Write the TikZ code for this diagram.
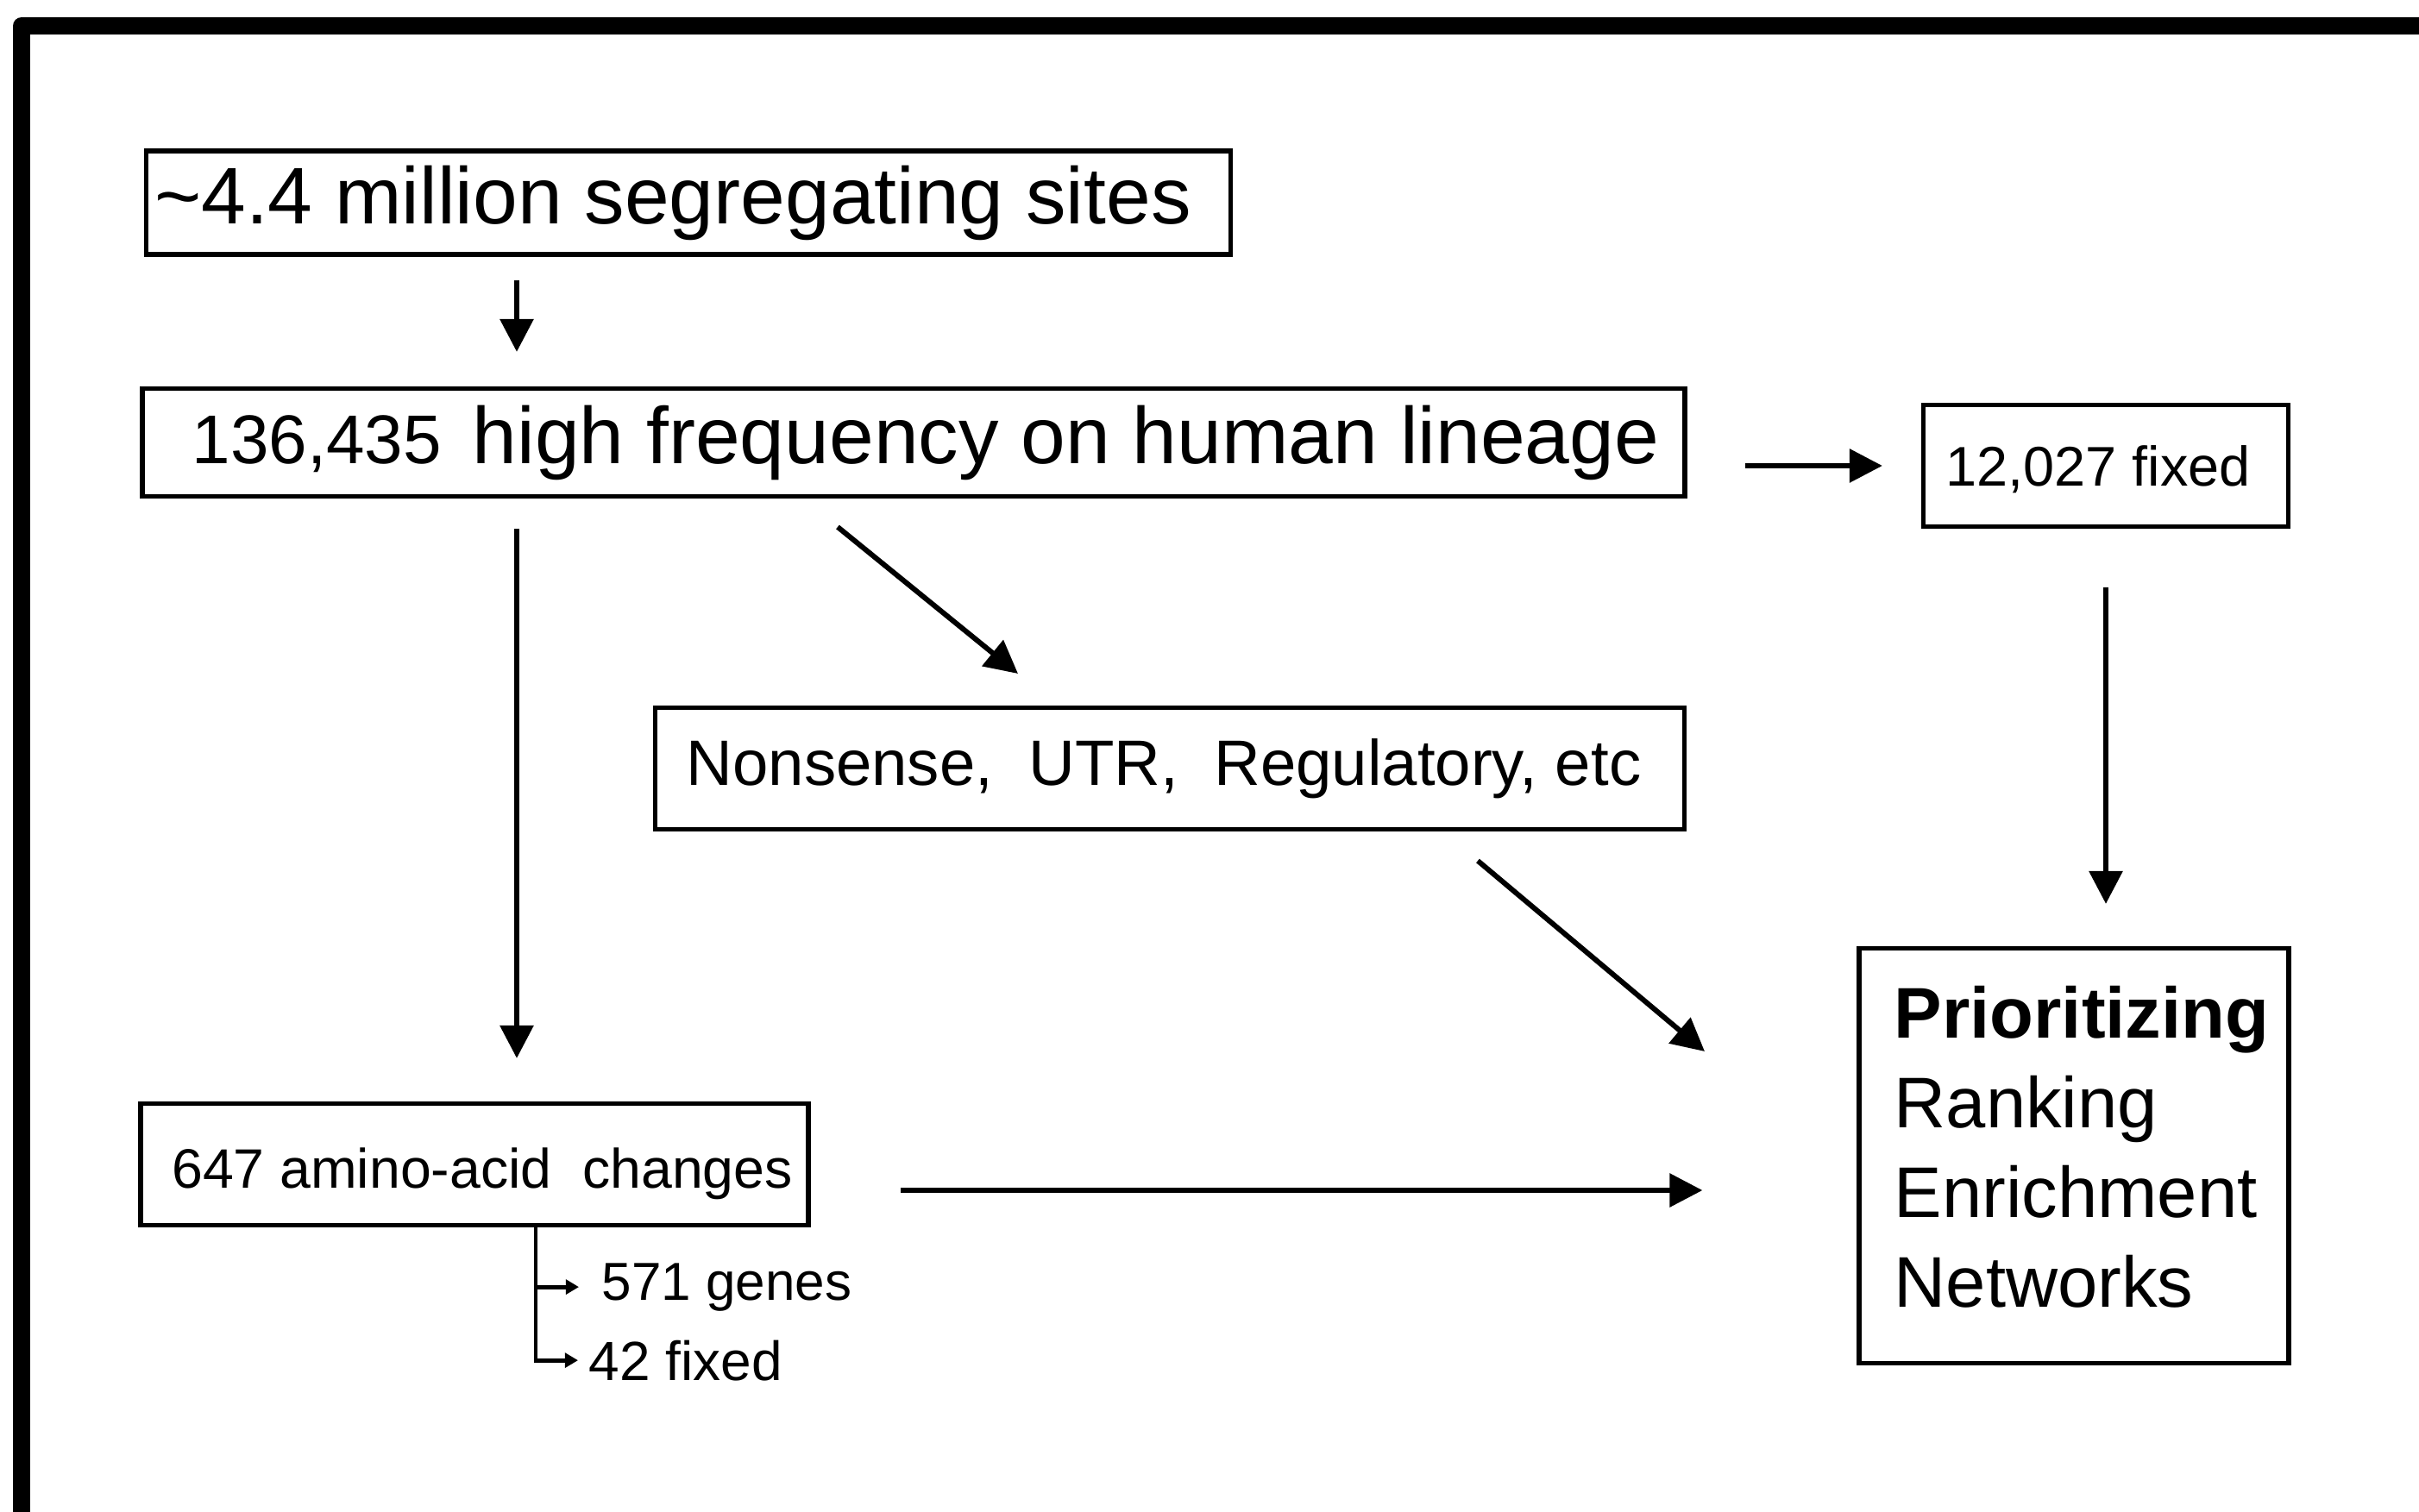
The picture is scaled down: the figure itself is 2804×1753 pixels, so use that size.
\documentclass[tikz,border=0pt]{standalone}
\usepackage{fontspec}
\setmainfont{Liberation Sans}
\usetikzlibrary{arrows.meta,calc}
\begin{document}
\begin{tikzpicture}[x=0.25pt,y=-0.25pt,
  boxed/.style={draw, line width=1.3pt, inner sep=0pt},
  arr/.style={line width=1.5pt, -{Triangle[length=9.5pt,width=9.5pt]}},
  smallarr/.style={line width=1.2pt, -{Triangle[length=3.8pt,width=4.2pt]}},
  big/.style={font=\fontsize{23.25}{28}\selectfont},
  lbl/.style={inner sep=0pt, anchor=base west}]
\useasboundingbox (0,0) rectangle (2804,1753);
\clip (0,0) rectangle (2804,1753);
% outer frame
\draw[line width=5pt, line join=round] (25,30) rectangle (2950,1900);

% boxes
\node[boxed, big, minimum width=314.25pt, minimum height=30pt] (sites) at (798,235)
  {\textasciitilde 4.4 million segregating sites\hspace{9pt}\null};
\node[boxed, minimum width=447pt, minimum height=31.25pt] (hf) at (1059,513)
  {\hspace{7pt}{\fontsize{20}{24}\selectfont 136,435}\hspace{9pt}{\fontsize{23.25}{28}\selectfont high frequency on human lineage}};
\node[boxed, font=\fontsize{16.2}{20}\selectfont, text height=11.8pt, text depth=0pt,
  minimum width=105.75pt, minimum height=35.25pt] (fixed) at (2441,540)
  {12,027 fixed\hspace{4.5pt}\null};
\node[boxed, font=\fontsize{18.6}{22}\selectfont, minimum width=298.25pt, minimum height=35.25pt] (nons) at (1356,891)
  {Nonsense,\ \ UTR,\ \ Regulatory, etc\hspace{3.5pt}\null};
\node[boxed, font=\fontsize{16.1}{20}\selectfont, text height=13.5pt, text depth=0pt,
  minimum width=193.5pt, minimum height=35.25pt] (aa) at (550,1350)
  {\hspace{4.5pt}647 amino-acid\ \ changes};
\node[boxed, font=\fontsize{20.8}{26}\selectfont, align=left, minimum width=124.5pt, minimum height=120.25pt] (prio) at (2404,1340)
  {\hspace*{4.5pt}\textbf{Prioritizing}\\\hspace*{4.5pt}Ranking\\\hspace*{4.5pt}Enrichment\\\hspace*{4.5pt}Networks\rule[-5.5pt]{0pt}{5.5pt}};

% small labels
\node[lbl, font=\fontsize{15.5}{19}\selectfont] (genes) at (697,1507) {571 genes};
\node[lbl, font=\fontsize{16}{20}\selectfont] (fx42) at (682,1600) {42 fixed};

% coordinates for free-standing arrows
\coordinate (vx) at (599,0);
\coordinate (d1s) at (971,611);
\coordinate (d1e) at (1180,781);
\coordinate (d2s) at (1713,998);
\coordinate (d2e) at (1976,1219);
\coordinate (hy) at (0,1380);
\coordinate (brx) at (621,0);

% arrows
\draw[arr, shorten <=6.75pt, shorten >=10pt] (sites.south -| vx) -- (hf.north -| vx);
\draw[arr, shorten <=8.75pt, shorten >=12.5pt] (hf.south -| vx) -- (aa.north -| vx);
\draw[arr, shorten <=16.75pt, shorten >=11.25pt] (hf.east |- fixed.west) -- (fixed.west);
\draw[arr, shorten <=17pt, shorten >=12.25pt] (fixed.south) -- (fixed.south |- prio.north);
\draw[arr] (d1s) -- (d1e);
\draw[arr] (d2s) -- (d2e);
\draw[arr, shorten <=26pt, shorten >=44.75pt] (aa.east |- hy) -- (prio.west |- hy);

% branch below amino-acid box
\draw[smallarr, shorten >=3pt] (aa.south -| brx) |- (fx42.west);
\draw[smallarr, shorten >=6.5pt] (genes.west -| brx) -- (genes.west);
\end{tikzpicture}
\end{document}
